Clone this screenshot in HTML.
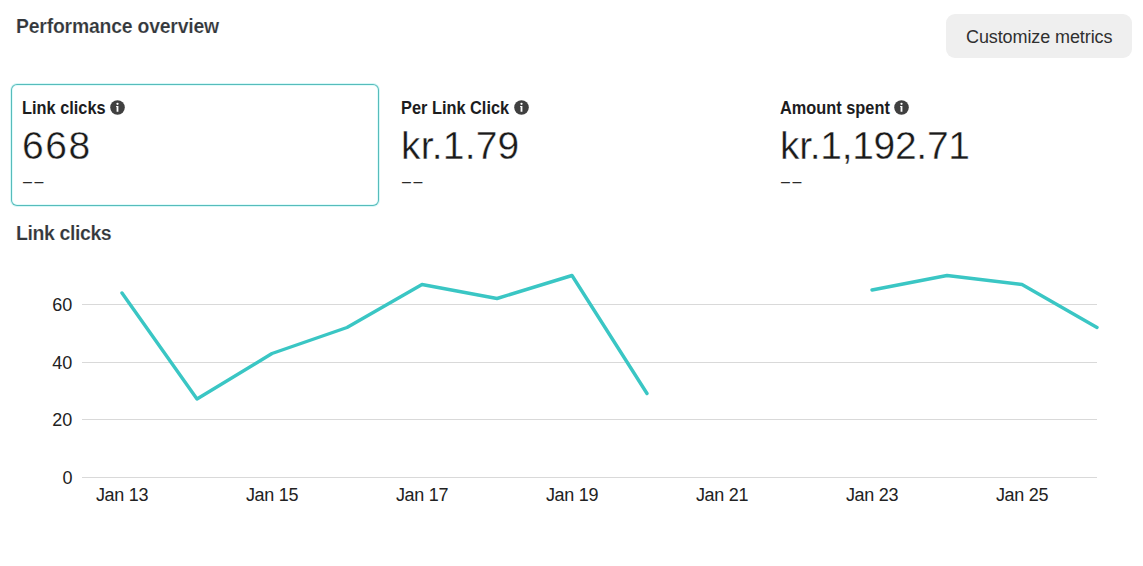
<!DOCTYPE html>
<html>
<head>
<meta charset="utf-8">
<style>
  html, body { margin: 0; padding: 0; background: #ffffff; }
  body { width: 1143px; height: 566px; position: relative; overflow: hidden;
         font-family: "Liberation Sans", Arial, sans-serif; color: #222; }
  .abs { position: absolute; white-space: nowrap; }
  .title { left: 16px; top: 15px; font-size: 19.4px; font-weight: 700; color: #33373b; line-height: 22px; letter-spacing: -0.2px; -webkit-text-stroke: 0.15px #fff; }
  .btn { left: 946px; top: 14px; width: 186px; height: 44px; background: #efefef; border-radius: 9px; }
  .btn span { position: absolute; left: 20px; top: 13px; font-size: 18px; line-height: 21px; color: #303030; letter-spacing: -0.1px; }
  .card { top: 84px; width: 368px; height: 122px; box-sizing: border-box; border-radius: 6px; }
  .card.sel { box-shadow: 0 0 0 1px #d8f8f8, inset 0 0 0 1px #56bcbb, inset 0 0 0 2px #e2fbfb; }
  .lbl { position: absolute; left: 11px; top: 14px; font-size: 17.5px; font-weight: 700; color: #1c1c1e; line-height: 20px; }
  .lbl span { display: inline-block; transform: scaleX(0.934); transform-origin: 0 0; }
  .ic { position: absolute; top: 16px; }
  .val { position: absolute; left: 11px; top: 40px; font-size: 39px; line-height: 44px; color: #1a1a1a; -webkit-text-stroke: 0.4px #fff; }
  .dash { position: absolute; left: 12px; top: 89px; font-size: 16px; line-height: 18px; color: #2a2a2a; letter-spacing: 2.6px; }
  .h2 { left: 16px; top: 222px; font-size: 19.5px; font-weight: 700; color: #33373b; line-height: 22px; letter-spacing: -0.4px; -webkit-text-stroke: 0.15px #fff; }
</style>
</head>
<body>
  <div class="abs title">Performance overview</div>
  <div class="abs btn"><span>Customize metrics</span></div>

  <div class="abs card sel" style="left:11px">
    <div class="lbl"><span>Link clicks</span></div><svg class="ic" style="left:99px" width="15" height="15" viewBox="0 0 15 15"><circle cx="7.5" cy="7.5" r="7.3" fill="#404040"/><circle cx="7.5" cy="3.8" r="1.15" fill="#fff"/><path d="M6.1 6.1h2.3v5.7h-1.8v-4.7h-0.5z" fill="#fff"/></svg>
    <div class="val" style="letter-spacing:1.5px">668</div>
    <div class="dash">––</div>
  </div>
  <div class="abs card" style="left:390px">
    <div class="lbl"><span>Per Link Click</span></div><svg class="ic" style="left:124.1px" width="15" height="15" viewBox="0 0 15 15"><circle cx="7.5" cy="7.5" r="7.3" fill="#404040"/><circle cx="7.5" cy="3.8" r="1.15" fill="#fff"/><path d="M6.1 6.1h2.3v5.7h-1.8v-4.7h-0.5z" fill="#fff"/></svg>
    <div class="val" style="letter-spacing:0.2px">kr.1.79</div>
    <div class="dash">––</div>
  </div>
  <div class="abs card" style="left:769px">
    <div class="lbl"><span>Amount spent</span></div><svg class="ic" style="left:124.6px" width="15" height="15" viewBox="0 0 15 15"><circle cx="7.5" cy="7.5" r="7.3" fill="#404040"/><circle cx="7.5" cy="3.8" r="1.15" fill="#fff"/><path d="M6.1 6.1h2.3v5.7h-1.8v-4.7h-0.5z" fill="#fff"/></svg>
    <div class="val" style="letter-spacing:-0.3px">kr.1,192.71</div>
    <div class="dash">––</div>
  </div>

  <div class="abs h2">Link clicks</div>

  <svg class="abs" style="left:0;top:0" width="1143" height="566" viewBox="0 0 1143 566">
    <g stroke="#d9d9d9" stroke-width="1">
      <line x1="82" y1="304.5" x2="1097" y2="304.5"/>
      <line x1="82" y1="362.5" x2="1097" y2="362.5"/>
      <line x1="82" y1="419.5" x2="1097" y2="419.5"/>
      <line x1="82" y1="477.5" x2="1097" y2="477.5"/>
    </g>
    <g font-family="Liberation Sans, Arial, sans-serif" font-size="18" fill="#222" text-anchor="end">
      <text x="72.3" y="310.5">60</text>
      <text x="72.3" y="368.5">40</text>
      <text x="72.3" y="426">20</text>
      <text x="72.5" y="483.5">0</text>
    </g>
    <g font-family="Liberation Sans, Arial, sans-serif" font-size="18" fill="#222" text-anchor="middle" letter-spacing="-0.3">
      <text x="122" y="500.5">Jan 13</text>
      <text x="272" y="500.5">Jan 15</text>
      <text x="422" y="500.5">Jan 17</text>
      <text x="572" y="500.5">Jan 19</text>
      <text x="722" y="500.5">Jan 21</text>
      <text x="872" y="500.5">Jan 23</text>
      <text x="1022" y="500.5">Jan 25</text>
    </g>
    <g fill="none" stroke="#3ac6c4" stroke-width="3.4" stroke-linejoin="round" stroke-linecap="round">
      <polyline points="122,293 197,399 272,353.5 347,327.5 422,284.5 497,298.5 572,275.5 647,393.5"/>
      <polyline points="872,290 947,275.5 1022,284.5 1097,327.5"/>
    </g>
  </svg>
</body>
</html>
